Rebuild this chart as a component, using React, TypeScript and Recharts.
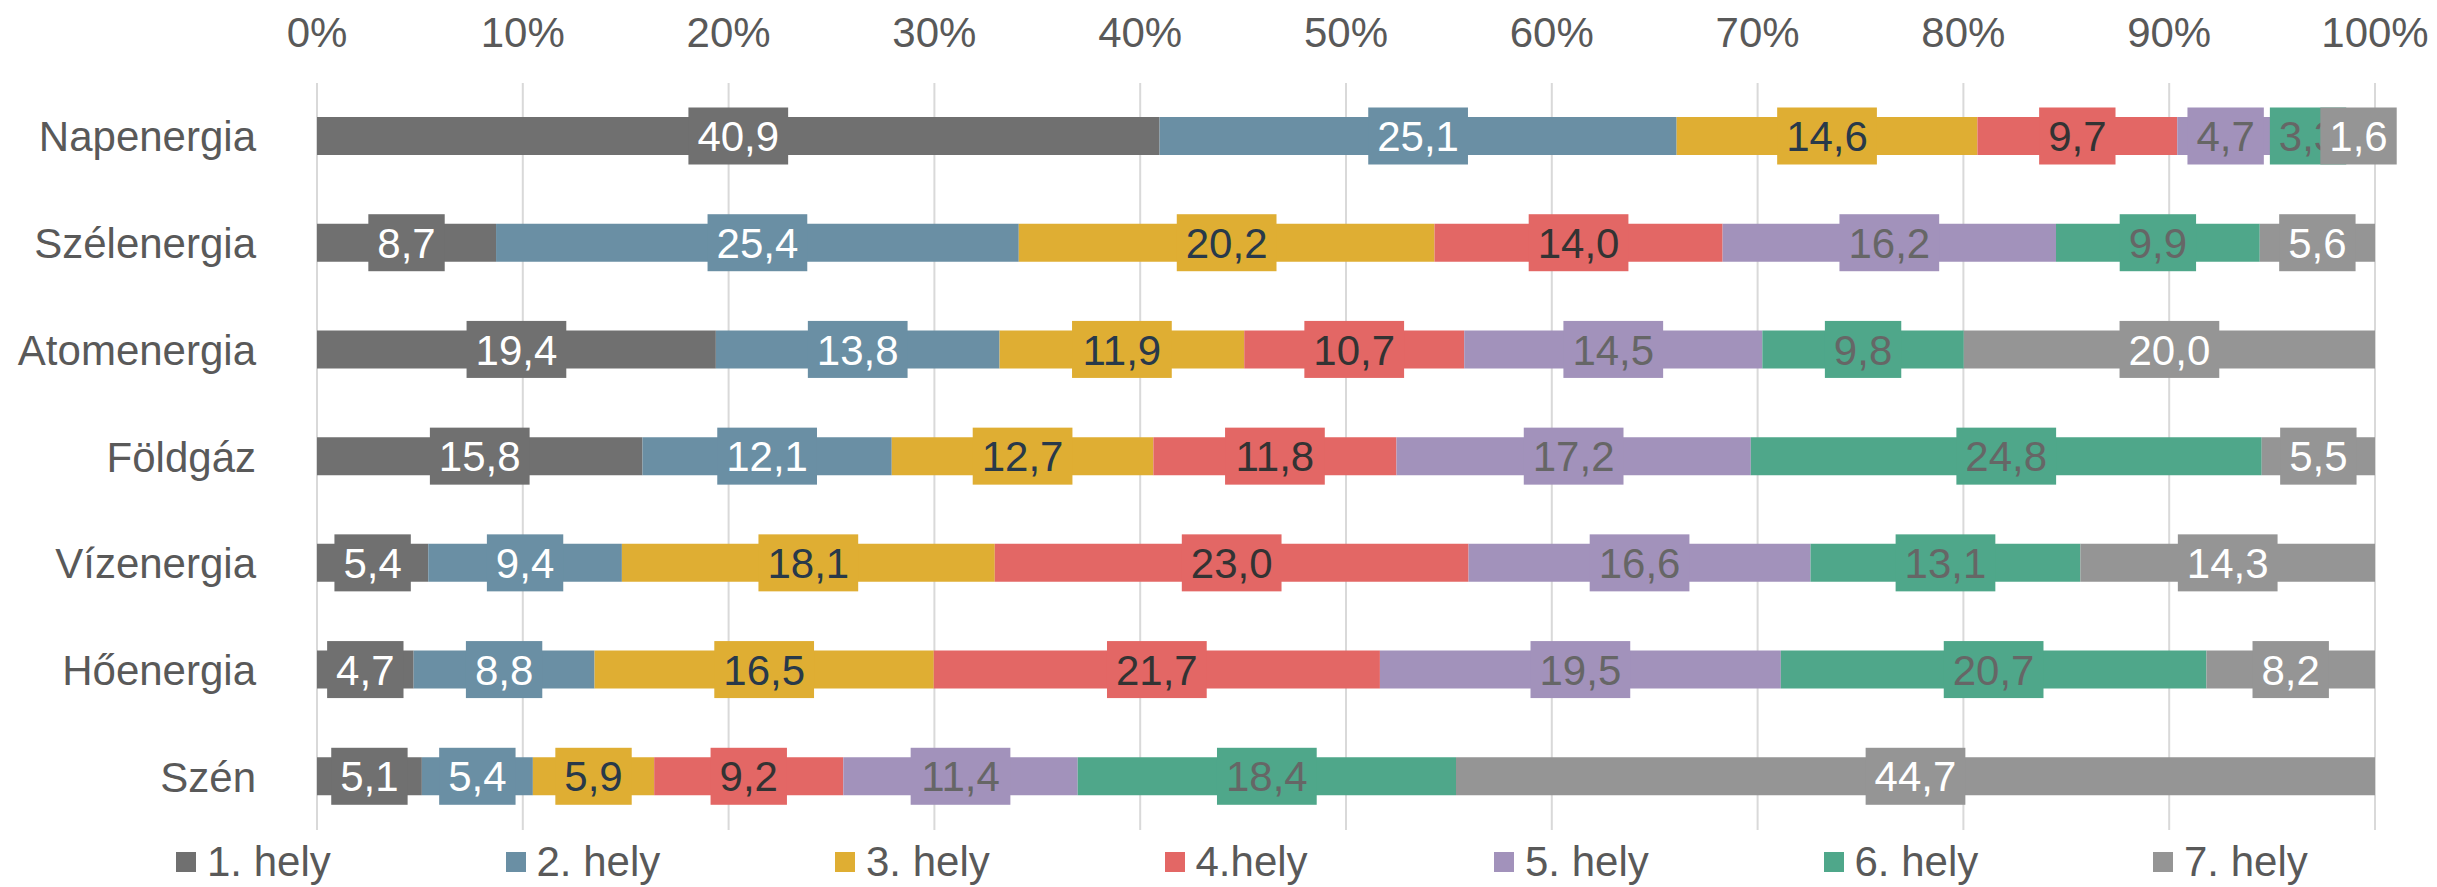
import { BarChart, Bar, XAxis, YAxis, CartesianGrid, LabelList, Legend } from "recharts";

const FONT = '"Liberation Sans", Arial, sans-serif';
const FS = 42;

const categories = ["Napenergia", "Szélenergia", "Atomenergia", "Földgáz", "Vízenergia", "Hőenergia", "Szén"];
const seriesNames = ["1. hely", "2. hely", "3. hely", "4.hely", "5. hely", "6. hely", "7. hely"];

const hely1 = [40.9, 8.7, 19.4, 15.8, 5.4, 4.7, 5.1];
const hely2 = [25.1, 25.4, 13.8, 12.1, 9.4, 8.8, 5.4];
const hely3 = [14.6, 20.2, 11.9, 12.7, 18.1, 16.5, 5.9];
const hely4 = [9.7, 14.0, 10.7, 11.8, 23.0, 21.7, 9.2];
const hely5 = [4.7, 16.2, 14.5, 17.2, 16.6, 19.5, 11.4];
const hely6 = [3.3, 9.9, 9.8, 24.8, 13.1, 20.7, 18.4];
const hely7 = [1.6, 5.6, 20.0, 5.5, 14.3, 8.2, 44.7];

const xTicks = [0, 0.1, 0.2, 0.3, 0.4, 0.5, 0.6, 0.7, 0.8, 0.9, 1];

const allValues = [hely1, hely2, hely3, hely4, hely5, hely6, hely7];

const data = categories.map((name, i) => {
  const row: Record<string, string | number> = { name };
  allValues.forEach((vals, s) => {
    row["h" + (s + 1)] = vals[i];
  });
  return row;
});

// bar colour + label text colour per series
const series = [
  { key: "h1", color: "#707070", text: "#ffffff" },
  { key: "h2", color: "#6a8fa4", text: "#ffffff" },
  { key: "h3", color: "#dfae33", text: "#28394a" },
  { key: "h4", color: "#e36765", text: "#333333" },
  { key: "h5", color: "#a292bb", text: "#666666" },
  { key: "h6", color: "#4fa78a", text: "#666666" },
  { key: "h7", color: "#959595", text: "#ffffff" },
];

const fmt = (v: number) => v.toFixed(1).replace(".", ",");

function textWidth(s: string, size: number) {
  let w = 0;
  for (const c of s) w += c === "," ? 0.278 : 0.556;
  return w * size;
}

function makeLabel(color: string, textColor: string) {
  return (props: any) => {
    const { x, y, width, height, value } = props;
    if (value == null) return null;
    const str = fmt(Number(value));
    const bw = textWidth(str, FS) + 18;
    const bh = 57;
    const cx = Number(x) + Number(width) / 2;
    const cy = Number(y) + Number(height) / 2;
    return (
      <g>
        <rect x={cx - bw / 2} y={cy - bh / 2} width={bw} height={bh} fill={color} />
        <text x={cx} y={cy} dy="0.36em" textAnchor="middle" fill={textColor} fontSize={FS} fontFamily={FONT}>
          {str}
        </text>
      </g>
    );
  };
}

const XTick = (props: any) => {
  const { x, y, payload } = props;
  return (
    <text x={x} y={y - 28} textAnchor="middle" fill="#595959" fontSize={FS} fontFamily={FONT}>
      {Math.round(payload.value * 100) + "%"}
    </text>
  );
};

const YTick = (props: any) => {
  const { x, y, payload } = props;
  return (
    <text x={x - 53} y={y} dy="0.36em" textAnchor="end" fill="#595959" fontSize={FS} fontFamily={FONT}>
      {payload.value}
    </text>
  );
};

const renderLegend = () => (
  <div style={{ position: "relative", height: 57, width: 2437 }}>
    {series.map((s, i) => (
      <div
        key={s.key}
        style={{
          position: "absolute",
          left: 176 + i * 329.5,
          top: 8,
          display: "flex",
          alignItems: "center",
          fontFamily: FONT,
          fontSize: FS,
          lineHeight: "48px",
          color: "#595959",
          whiteSpace: "nowrap",
        }}
      >
        <span style={{ display: "inline-block", width: 20, height: 20, background: s.color, marginRight: 11 }} />
        <span>{seriesNames[i]}</span>
      </div>
    ))}
  </div>
);

export default function App() {
  return (
    <div style={{ position: "absolute", left: 0, top: 0, width: 2437, height: 887, background: "#ffffff" }}>
      <BarChart
        width={2437}
        height={887}
        data={data}
        layout="vertical"
        stackOffset="expand"
        barSize={38}
        margin={{ top: 0, right: 62, bottom: 0, left: 0 }}
      >
        <CartesianGrid horizontal={false} stroke="#d9d9d9" strokeWidth={2} />
        <XAxis
          type="number"
          orientation="top"
          domain={[0, 1]}
          ticks={xTicks}
          height={83}
          axisLine={false}
          tickLine={false}
          tick={<XTick />}
          interval={0}
        />
        <YAxis
          type="category"
          dataKey="name"
          width={317}
          axisLine={false}
          tickLine={false}
          tick={<YTick />}
          interval={0}
        />
        <Legend
          verticalAlign="bottom"
          height={57}
          content={renderLegend}
          wrapperStyle={{ left: 0, width: 2437 }}
        />
        {series.map((s) => (
          <Bar key={s.key} dataKey={s.key} stackId="a" fill={s.color} isAnimationActive={false}>
            <LabelList dataKey={s.key} content={makeLabel(s.color, s.text)} />
          </Bar>
        ))}
      </BarChart>
    </div>
  );
}
